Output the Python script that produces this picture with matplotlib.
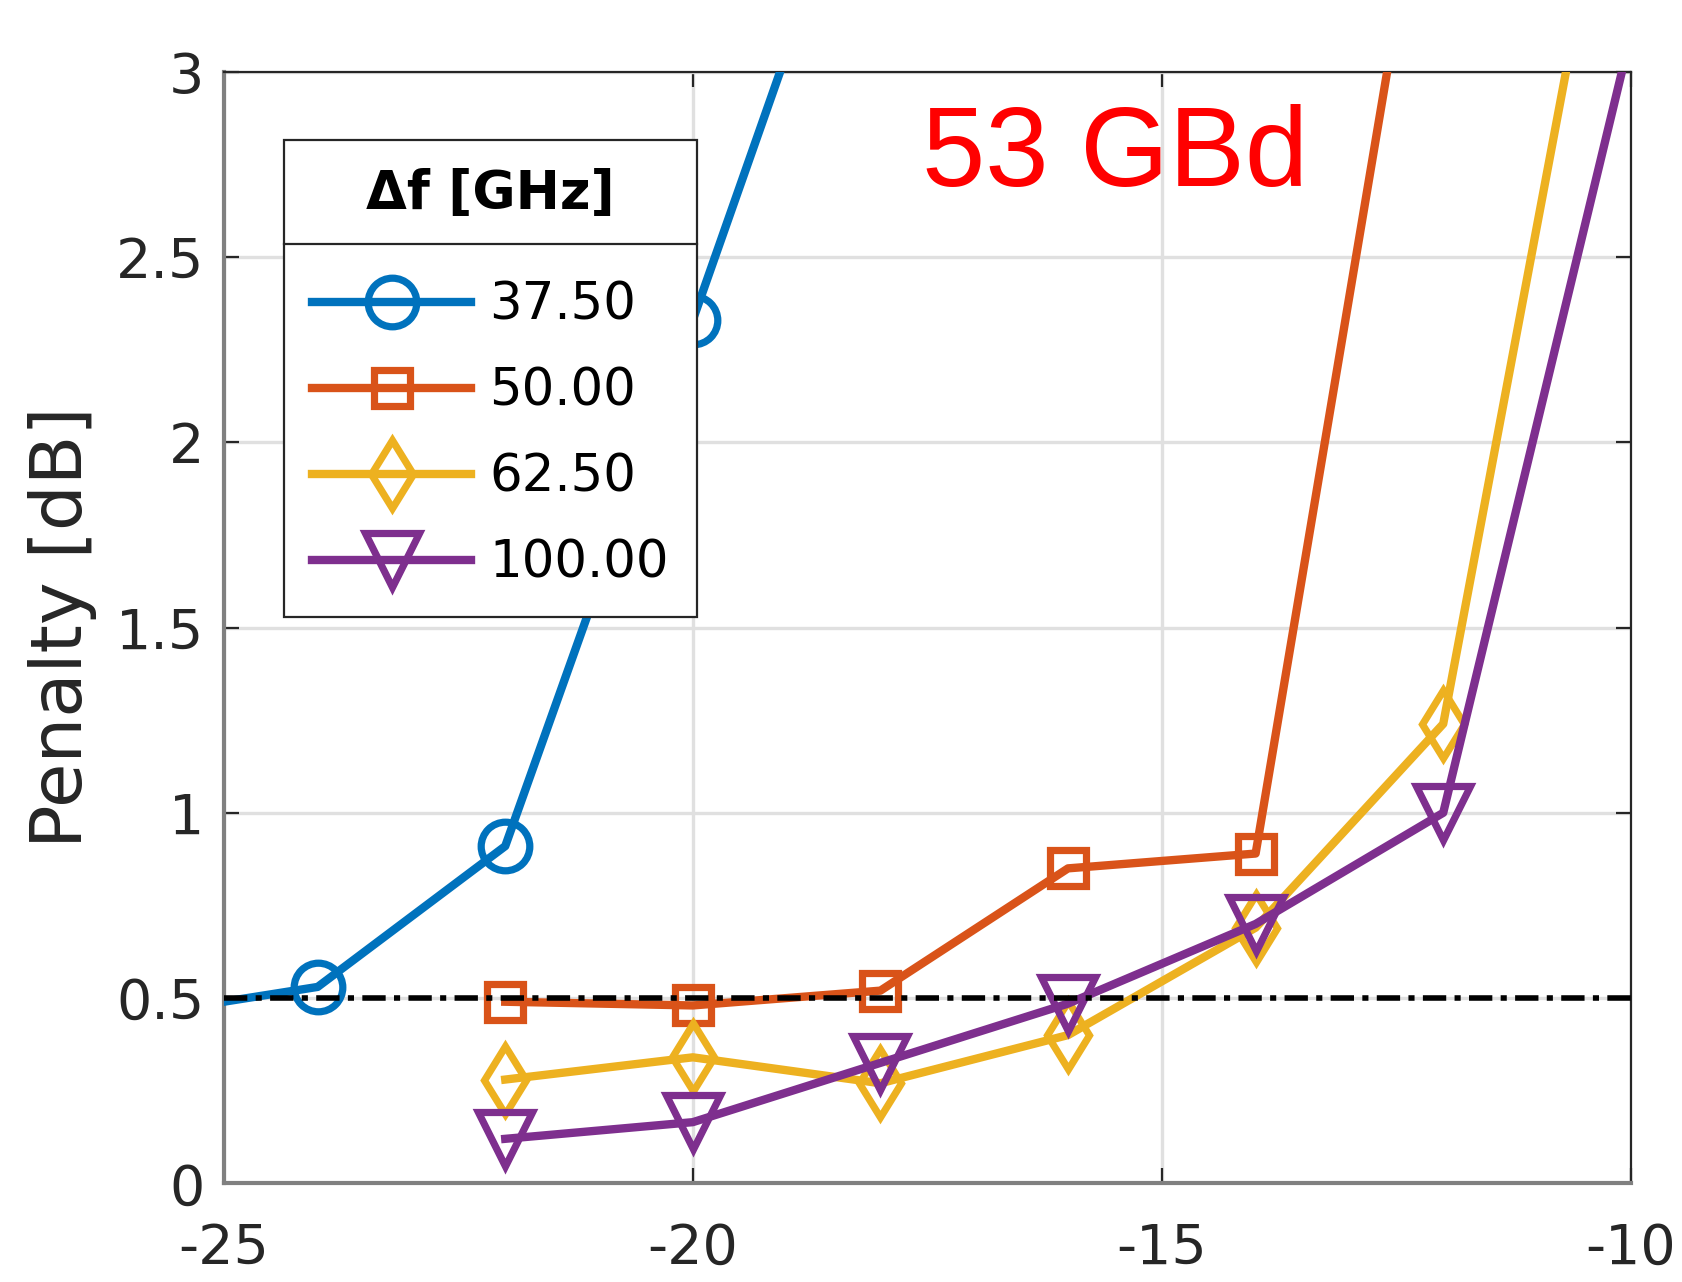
import numpy as np
import matplotlib
matplotlib.use('Agg')
import matplotlib.pyplot as plt
from matplotlib.lines import Line2D

plt.rcParams['font.family'] = ['DejaVu Sans']
plt.rcParams['axes.unicode_minus'] = False

# ── data ───────────────────────────────────────────────────────────────────
X_3750 = [-26, -24, -22, -20, -18]
Y_3750 = [0.45, 0.53, 0.91, 2.33, 3.77]

X_5000 = [-22, -20, -18, -16, -14, -12]
Y_5000 = [0.49, 0.48, 0.52, 0.85, 0.89, 3.90]

X_6250 = [-22, -20, -18, -16, -14, -12, -10]
Y_6250 = [0.28, 0.34, 0.27, 0.40, 0.69, 1.24, 3.93]

X_10000 = [-22, -20, -18, -16, -14, -12, -10]
Y_10000 = [0.12, 0.165, 0.325, 0.485, 0.70, 1.00, 3.10]

THRESHOLD = 0.5
LABELS = ['37.50', '50.00', '62.50', '100.00']
X_TICKS = [-25, -20, -15, -10]
Y_TICKS = [0, 0.5, 1, 1.5, 2, 2.5, 3]

# ── styles ─────────────────────────────────────────────────────────────────
STYLES = [
    dict(color='#0072BD', marker='o', ms=35),
    dict(color='#D95319', marker='s', ms=26),
    dict(color='#EDB120', marker='d', ms=35),
    dict(color='#7E2F8E', marker='v', ms=39),
]

fig = plt.figure(figsize=(16.83, 12.82), dpi=100)
ax = fig.add_axes([0.133, 0.077, 0.836, 0.867])

series = [(X_3750, Y_3750), (X_5000, Y_5000), (X_6250, Y_6250), (X_10000, Y_10000)]
for (x, y), s, lbl in zip(series, STYLES, LABELS):
    ax.plot(x, y, color=s['color'], lw=6.0, marker=s['marker'], ms=s['ms'],
            mfc='none', mec=s['color'], mew=5.2, label=lbl, zorder=3)

ax.axhline(THRESHOLD, color='k', lw=4.0, dashes=(4.2, 1.5, 1.1, 1.5), zorder=4)

ax.set_xlim(-25, -10)
ax.set_ylim(0, 3)
ax.set_xticks(X_TICKS)
ax.set_yticks(Y_TICKS)
ax.set_yticklabels(['0', '0.5', '1', '1.5', '2', '2.5', '3'])
ax.grid(True, color='#e0e0e0', lw=2.4, zorder=0)
ax.set_axisbelow(True)
ax.tick_params(direction='in', length=11, width=1.6, color='#262626',
               labelsize=40, top=True, right=True, labelcolor='#262626')
ax.tick_params(axis='y', pad=14)
ax.tick_params(axis='x', pad=28)
for side in ['left', 'bottom']:
    ax.spines[side].set_color('#808080')
    ax.spines[side].set_linewidth(3.0)
for side in ['top', 'right']:
    ax.spines[side].set_color('#262626')
    ax.spines[side].set_linewidth(1.6)

ax.set_ylabel('Penalty [dB]', fontsize=52, color='#262626', labelpad=14)

ax.text(-15.5, 2.77, '53 GBd', color='#ff0000', fontsize=82,
        family='Liberation Sans', ha='center', va='center')

leg = ax.legend(loc='upper left', bbox_to_anchor=(0.0426, 0.939),
                borderaxespad=0, fontsize=37, title='\u0394f [GHz]',
                title_fontproperties={'size': 38, 'weight': 'bold'},
                handlelength=3.1, handletextpad=0.35, labelspacing=0.7,
                borderpad=0.55, fancybox=False, framealpha=1,
                edgecolor='#262626')
leg.get_frame().set_linewidth(1.6)
leg._legend_box.sep = 44  # room between title and entries

# separator line below the legend title
fig.canvas.draw()
r = fig.canvas.get_renderer()
tb = leg.get_title().get_window_extent(r)
fb = leg.get_frame().get_window_extent(r)
inv = fig.transFigure.inverted()
y_sep = tb.y0 - 24
(x0, ys), (x1, _) = inv.transform([(fb.x0, y_sep), (fb.x1, y_sep)])
fig.add_artist(Line2D([x0, x1], [ys, ys], color='#262626', lw=1.6,
                      transform=fig.transFigure, zorder=10))

fig.savefig('out.png', dpi=100)
